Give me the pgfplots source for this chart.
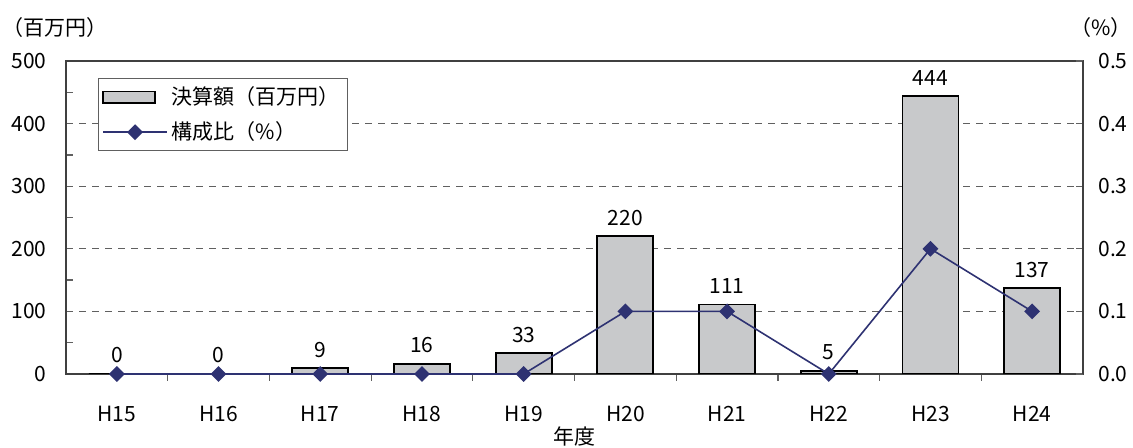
\documentclass[border=0pt]{standalone}
\usepackage{pgfplots}
\pgfplotsset{compat=1.18}
\usepackage{fontspec}
\setmainfont{Noto Sans CJK JP}
\definecolor{navy}{HTML}{2E3272}
\definecolor{barfill}{HTML}{C8C9CB}
\definecolor{axgray}{HTML}{606060}
\definecolor{axdark}{HTML}{404040}
\pgfplotsset{
  barlegend/.style={legend image code/.code={\draw[##1] (0pt,-2.8pt) rectangle (26pt,2.8pt);}},
  linelegend/.style={legend image code/.code={\draw[##1, mark=none] (0pt,0pt) -- (32pt,0pt);
    \draw[##1] plot coordinates {(16pt,0pt)};}},
  ratioline/.style={navy, line width=0.8pt, mark=square*, mark size=2.4pt,
    mark options={rotate=45, fill=navy, solid}},
}

\begin{document}
\fontsize{10.5}{12}\selectfont
\begin{tikzpicture}
\useasboundingbox (-33pt,-37pt) rectangle (533.5pt,187pt);
% left axis: bars
\begin{axis}[
  scale only axis, width=508.5pt, height=156.5pt,
  at={(0,0)}, anchor=south west,
  xmin=-0.5, xmax=9.5, ymin=0, ymax=500,
  xtick={0,...,9},
  xticklabels={H15,H16,H17,H18,H19,H20,H21,H22,H23,H24},
  minor xtick={0.5,1.5,...,8.5},
  major x tick style={draw=none},
  xtick pos=bottom, ytick pos=left,
  ytick={0,100,...,500}, minor y tick num=1,
  major tick length=3.5pt, minor tick length=3.5pt,
  tick style={axgray, line width=0.6pt},
  axis line style={axdark, line width=0.7pt},
  ymajorgrids,
  grid style={axgray, dash pattern=on 3.5pt off 3pt, line width=0.5pt},
  /pgf/number format/assume math mode=true,
  yticklabel style={xshift=-6pt},
  xticklabel style={yshift=-9pt},
  ybar, bar width=0.55,
  nodes near coords,
  nodes near coords style={yshift=1.5pt, black},
  legend style={at={(rel axis cs:0.031,0.946)}, anchor=north west,
    draw=axgray, line width=0.6pt, inner sep=2pt, row sep=3pt,
    font=\fontsize{10.5}{12}\selectfont},
  legend cell align=left,
]
\addplot[draw=black, line width=0.9pt, fill=barfill, barlegend]
  coordinates {(0,0) (1,0) (2,9) (3,16) (4,33) (5,220) (6,111) (7,5) (8,444) (9,137)};
\addlegendentry{決算額（百万円）}
\addlegendimage{ratioline, linelegend}
\addlegendentry{構成比（\%）}
\end{axis}
% right axis: ratio line
\begin{axis}[
  scale only axis, width=508.5pt, height=156.5pt,
  at={(0,0)}, anchor=south west, clip=false,
  xmin=-0.5, xmax=9.5, ymin=0, ymax=0.5,
  axis x line=none, axis y line*=right,
  ytick={0,0.1,...,0.5},
  ytick pos=right,
  yticklabel style={/pgf/number format/.cd, fixed, fixed zerofill, precision=1, /tikz/.cd, xshift=4pt},
  /pgf/number format/assume math mode=true,
  major tick length=3.5pt,
  tick style={axgray, line width=0.6pt},
  axis line style={axdark, line width=0.7pt},
]
\addplot[ratioline]
  coordinates {(0,0) (1,0) (2,0) (3,0) (4,0) (5,0.1) (6,0.1) (7,0) (8,0.2) (9,0.1)};
\node at (rel axis cs:0.5,0) [yshift=-31.5pt] {年度};
\node at (rel axis cs:0,1) [xshift=-5.5pt, yshift=16.5pt] {（百万円）};
\node at (rel axis cs:1,1) [xshift=9pt, yshift=16.5pt] {（\%）};
\end{axis}
\end{tikzpicture}
\end{document}
